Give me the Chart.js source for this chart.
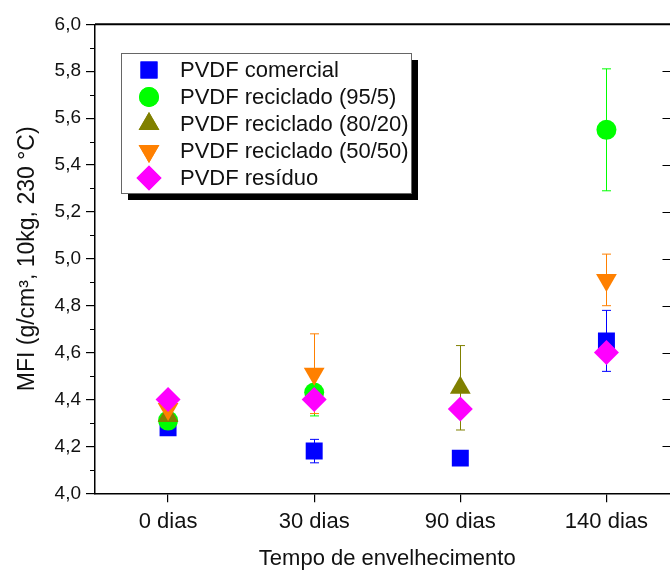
<!DOCTYPE html>
<html>
<head>
<meta charset="utf-8">
<script src="https://cdn.jsdelivr.net/npm/chart.js@4.4.0/dist/chart.umd.min.js"></script>
<style>
  html, body { margin: 0; padding: 0; background: #fff; overflow: hidden; }
  #wrap { width: 692px; height: 572px; }
</style>
</head>
<body>
<div id="wrap"><canvas id="mfiChart"></canvas></div>
<script>
// MFI per ageing time, one series per PVDF material
const tempos = ["0 dias", "30 dias", "90 dias", "140 dias"];
const comercial = [4.28, 4.18, 4.15, 4.65];
const comercialErr = [null, 0.05, null, 0.13];
const reciclado95 = [4.31, 4.43, null, 5.55];
const reciclado95Err = [null, 0.10, null, 0.26];
const reciclado80 = [4.33, null, 4.45, null];
const reciclado80Err = [null, null, 0.18, null];
const reciclado50 = [4.36, 4.51, null, 4.91];
const reciclado50Err = [null, 0.17, null, 0.11];
const residuo = [4.40, 4.40, 4.36, 4.60];
const residuoErr = [null, null, null, null];

const FONT = "'Liberation Sans', Arial, sans-serif";
const fmt = (v) => v.toFixed(1).replace(".", ",");

function serie(label, data, err, color, style, radius, rotation, order) {
  return {
    label, data, err,
    showLine: false,
    pointStyle: style,
    pointRadius: radius,
    pointRotation: rotation,
    pointBackgroundColor: color,
    pointBorderWidth: 0,
    borderColor: color,
    backgroundColor: color,
    order,
  };
}

const datasets = [
  serie("PVDF comercial", comercial, comercialErr, "#0000ff", "rect", 12, 0, 4),
  serie("PVDF reciclado (95/5)", reciclado95, reciclado95Err, "#00ff00", "circle", 10, 0, 3),
  serie("PVDF reciclado (80/20)", reciclado80, reciclado80Err, "#808000", "triangle", 12, 0, 2),
  serie("PVDF reciclado (50/50)", reciclado50, reciclado50Err, "#ff8000", "triangle", 12, 180, 1),
  serie("PVDF resíduo", residuo, residuoErr, "#ff00ff", "rectRot", 12.5, 0, 0),
];

// error bars, drawn under the markers
const errorBars = {
  id: "errorBars",
  beforeDatasetsDraw(chart) {
    const { ctx, scales: { x, y } } = chart;
    ctx.save();
    ctx.lineWidth = 1;
    chart.data.datasets.forEach((ds) => {
      ds.data.forEach((v, i) => {
        const e = ds.err[i];
        if (v == null || e == null) return;
        const px = Math.round(x.getPixelForValue(i)) + 0.5;
        const top = y.getPixelForValue(v + e);
        const bot = y.getPixelForValue(v - e);
        ctx.strokeStyle = ds.borderColor;
        ctx.beginPath();
        ctx.moveTo(px, top); ctx.lineTo(px, bot);
        ctx.moveTo(px - 4.5, top); ctx.lineTo(px + 4.5, top);
        ctx.moveTo(px - 4.5, bot); ctx.lineTo(px + 4.5, bot);
        ctx.stroke();
      });
    });
    ctx.restore();
  },
};

// top border, minor ticks on the left and mirrored ticks on the right
const frame = {
  id: "frame",
  afterDraw(chart) {
    const { ctx, chartArea: a, scales: { y } } = chart;
    ctx.save();
    ctx.strokeStyle = "#000";
    ctx.lineWidth = 2;
    ctx.beginPath();
    ctx.moveTo(a.left, a.top); ctx.lineTo(a.right, a.top);
    ctx.stroke();
    ctx.lineWidth = 1.2;
    ctx.beginPath();
    for (let v = 4.1; v < 6; v += 0.2) {
      const py = Math.round(y.getPixelForValue(v)) + 0.5;
      ctx.moveTo(a.left - 5, py); ctx.lineTo(a.left, py);
    }
    for (let v = 4.0; v <= 6.001; v += 0.2) {
      const py = Math.round(y.getPixelForValue(v)) + 0.5;
      ctx.moveTo(a.right - 17, py); ctx.lineTo(a.right, py);
    }
    ctx.stroke();
    ctx.restore();
  },
};

// framed legend with a drop shadow
const boxLegend = {
  id: "boxLegend",
  afterDraw(chart) {
    const { ctx } = chart;
    const bx = 121, by = 53, bw = 290, bh = 140, sh = 7;
    ctx.save();
    ctx.fillStyle = "#000";
    ctx.fillRect(bx + sh, by + sh, bw, bh);
    ctx.fillStyle = "#fff";
    ctx.fillRect(bx, by, bw, bh);
    ctx.strokeStyle = "#666";
    ctx.lineWidth = 1;
    ctx.strokeRect(bx + 0.5, by + 0.5, bw, bh);
    ctx.font = "22px " + FONT;
    ctx.textBaseline = "middle";
    chart.data.datasets.forEach((ds, i) => {
      const ry = 70 + i * 27;
      ctx.fillStyle = ds.pointBackgroundColor;
      Chart.helpers.drawPoint(ctx, {
        pointStyle: ds.pointStyle,
        radius: ds.pointRadius,
        rotation: ds.pointRotation,
        borderWidth: 0,
      }, 149, ry);
      ctx.fill();
      ctx.fillStyle = "#111";
      ctx.fillText(ds.label, 180, ry + 1);
    });
    ctx.restore();
  },
};

new Chart(document.getElementById("mfiChart"), {
  type: "line",
  data: { labels: tempos, datasets },
  options: {
    responsive: true,
    maintainAspectRatio: false,
    animation: false,
    events: [],
    layout: { padding: { top: 24.3, right: 5, left: 0, bottom: 0 } },
    plugins: { legend: { display: false }, tooltip: { enabled: false } },
    scales: {
      x: {
        type: "category",
        offset: true,
        afterFit: (s) => { s.height = 78.7; },
        border: { display: true, color: "#000", width: 1.5 },
        grid: { drawOnChartArea: false, drawTicks: true, tickLength: 9, color: "#000", lineWidth: 1.2 },
        ticks: { color: "#111", font: { family: FONT, size: 22 }, padding: 6 },
        title: {
          display: true, text: "Tempo de envelhecimento", color: "#111",
          font: { family: FONT, size: 22 }, padding: { top: 0, bottom: 0 },
        },
      },
      y: {
        min: 4, max: 6,
        afterFit: (s) => { s.width = 95; },
        border: { display: true, color: "#000", width: 1.5 },
        grid: { drawOnChartArea: false, drawTicks: true, tickLength: 9, color: "#000", lineWidth: 1.2 },
        ticks: { stepSize: 0.2, color: "#111", font: { family: FONT, size: 19 }, padding: 5, callback: (v) => fmt(v) },
        title: {
          display: true, text: "MFI (g/cm³, 10kg, 230 °C)", color: "#111",
          font: { family: FONT, size: 23 }, padding: { top: 14, bottom: 0 },
        },
      },
    },
  },
  plugins: [errorBars, frame, boxLegend],
});
</script>
</body>
</html>
